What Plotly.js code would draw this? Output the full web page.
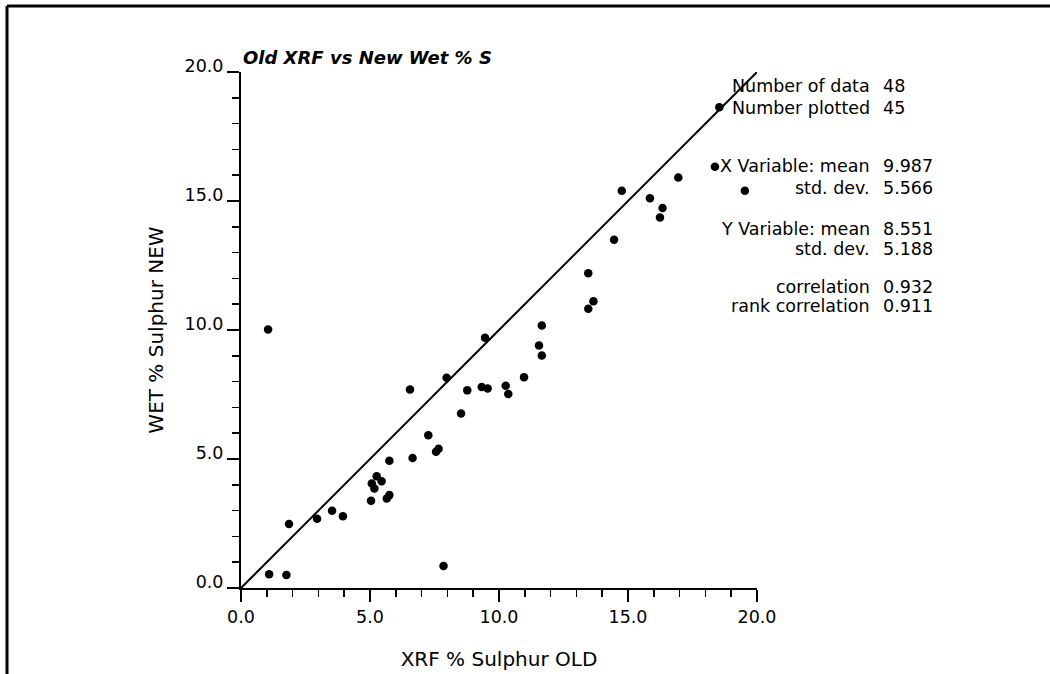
<!DOCTYPE html>
<html>
<head>
<meta charset="utf-8">
<script src="https://cdn.plot.ly/plotly-3.0.1.min.js"></script>
<style>
html,body{margin:0;padding:0;background:#fff;}
#chart{width:1050px;height:674px;}
</style>
</head>
<body>
<div id="chart"></div>
<script>
// ---- data ----
const xrfOld = [1.09, 1.76, 7.85, 1.05, 1.86, 2.95, 3.53, 3.95, 5.04, 5.07, 5.17, 5.26, 5.45, 5.65, 5.75, 5.75,
  6.55, 6.65, 7.26, 7.56, 7.66, 7.97, 8.53, 8.77, 9.33, 9.56, 9.46, 10.26, 10.36, 10.97, 11.55, 11.66, 11.66,
  13.46, 13.66, 13.46, 14.46, 14.76, 15.85, 16.34, 16.24, 16.95, 18.37, 19.53, 18.54];
const wetNew = [0.53, 0.50, 0.85, 10.02, 2.48, 2.68, 2.99, 2.78, 3.38, 4.05, 3.86, 4.33, 4.14, 3.47, 3.60, 4.93,
  7.69, 5.04, 5.92, 5.28, 5.40, 8.15, 6.76, 7.66, 7.79, 7.73, 9.70, 7.84, 7.52, 8.17, 9.40, 9.01, 10.17,
  12.20, 11.11, 10.82, 13.50, 15.40, 15.11, 14.73, 14.36, 15.91, 16.33, 15.40, 18.63];
const refLineX = [0, 20];
const refLineY = [0, 20];
const statLabels = ["Number of data", "Number plotted", "X Variable: mean", "std. dev.",
  "Y Variable: mean", "std. dev.", "correlation", "rank correlation"];
const statValues = ["48", "45", "9.987", "5.566", "8.551", "5.188", "0.932", "0.911"];
const tickVals = [0, 5, 10, 15, 20];
const chartTitle = "Old XRF vs New Wet % S";
const xTitle = "XRF % Sulphur OLD";
const yTitle = "WET % Sulphur NEW";

// ---- layout geometry (pixels) ----
const W = 1050, H = 674;
const plotL = 241, plotR = 757, plotT = 72, plotB = 588;
const pw = plotR - plotL, ph = plotB - plotT;
const px2x = p => (p - plotL) / pw;
const py2y = p => (plotB - p) / ph;
const statRowsPx = [86, 108, 166, 188, 229, 249, 287, 306];
const labelRightPx = 872, valueLeftPx = 881;

const FONT = "DejaVu Sans, Liberation Sans, Arial, sans-serif";
const annotations = [];
statLabels.forEach((t, i) => {
  annotations.push({text: t, xref: 'paper', yref: 'paper', x: px2x(labelRightPx), y: py2y(statRowsPx[i]),
    xanchor: 'right', yanchor: 'middle', align: 'right', showarrow: false, font: {family: FONT, size: 17.5, color: '#000'}});
  annotations.push({text: statValues[i], xref: 'paper', yref: 'paper', x: px2x(valueLeftPx), y: py2y(statRowsPx[i]),
    xanchor: 'left', yanchor: 'middle', align: 'left', showarrow: false, font: {family: FONT, size: 17.5, color: '#000'}});
});

const axisCommon = {
  range: [0, 20], tickvals: tickVals, tickformat: '.1f', ticks: 'outside', ticklen: 12, tickwidth: 1.5,
  tickcolor: '#000', showline: true, linewidth: 2, linecolor: '#000', showgrid: false, zeroline: false,
  tickfont: {family: FONT, size: 17.5, color: '#000'},
  minor: {dtick: 1, tick0: 0, ticks: 'outside', ticklen: 7, tickwidth: 1.5, tickcolor: '#000', showgrid: false},
  fixedrange: true
};

const layout = {
  width: W, height: H,
  margin: {l: plotL, r: W - plotR, t: plotT, b: H - plotB, pad: 0},
  paper_bgcolor: '#fff', plot_bgcolor: '#fff',
  showlegend: false,
  title: {text: chartTitle, x: px2x(243), xref: 'paper', xanchor: 'left', y: 1 - 58 / H, yref: 'container',
    yanchor: 'middle', font: {family: FONT, size: 18, weight: 'bold', style: 'italic', color: '#000'}},
  xaxis: Object.assign({}, axisCommon, {title: {text: xTitle, standoff: 26, font: {family: FONT, size: 20, color: '#000'}}}),
  yaxis: Object.assign({}, axisCommon, {ticklabelshift: -6, ticklabelstandoff: 0,
    title: {text: yTitle, standoff: 16, font: {family: FONT, size: 20, color: '#000'}}}),
  annotations: annotations,
  shapes: [
    {type: 'line', xref: 'paper', yref: 'paper', x0: px2x(7), x1: px2x(7), y0: py2y(6), y1: py2y(H + 10),
      line: {color: '#000', width: 3}},
    {type: 'line', xref: 'paper', yref: 'paper', x0: px2x(7), x1: px2x(W + 10), y0: py2y(6), y1: py2y(6),
      line: {color: '#000', width: 3}}
  ]
};

const data = [
  {x: refLineX, y: refLineY, type: 'scatter', mode: 'lines', line: {color: '#000', width: 2}, hoverinfo: 'skip', cliponaxis: false},
  {x: xrfOld, y: wetNew, type: 'scatter', mode: 'markers', marker: {color: '#000', size: 8.5}, cliponaxis: false}
];

Plotly.newPlot('chart', data, layout, {displayModeBar: false, staticPlot: true});
</script>
</body>
</html>
